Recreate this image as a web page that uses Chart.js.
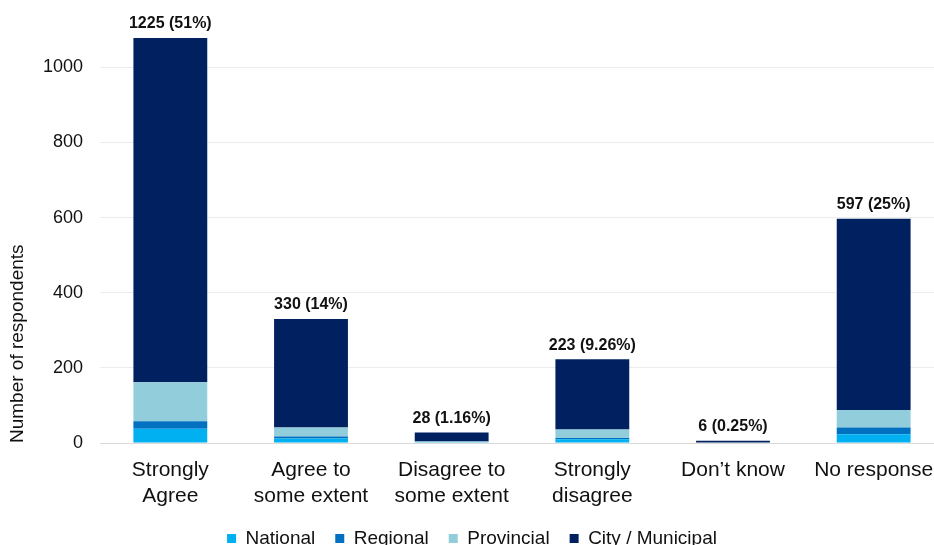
<!DOCTYPE html>
<html>
<head>
<meta charset="utf-8">
<script src="https://cdn.jsdelivr.net/npm/chart.js@4/dist/chart.umd.min.js"></script>
<style>
  html, body { margin: 0; padding: 0; background: #fff; overflow: hidden; }
  #wrap { width: 944px; height: 558px; }
</style>
</head>
<body>
<div id="wrap"><canvas id="chart" width="944" height="558"></canvas></div>
<script>
// ── Data ──────────────────────────────────────────────────────────────────────
const categories = [
  ["Strongly", "Agree"],
  ["Agree to", "some extent"],
  ["Disagree to", "some extent"],
  ["Strongly", "disagree"],
  ["Don\u2019t know"],
  ["No response"],
];
const national   = [38, 12, 2, 10, 0, 23];
const regional   = [20, 5, 0, 3, 0, 18];
const provincial = [104, 24, 2, 23, 0, 47];
const city       = [1063, 289, 24, 187, 6, 509];
const shares     = ["51%", "14%", "1.16%", "9.26%", "0.25%", "25%"];
const yTicks     = [0, 200, 400, 600, 800, 1000];

const FONT = "'Liberation Sans', Arial, Helvetica, sans-serif";

// ── Total labels above each stack ────────────────────────────────────────────
const totalLabels = {
  id: "totalLabels",
  afterDatasetsDraw(chart) {
    const { ctx, chartArea, scales: { x, y } } = chart;
    ctx.save();
    ctx.font = `bold 16px ${FONT}`;
    ctx.fillStyle = "#111";
    ctx.textAlign = "center";
    ctx.textBaseline = "bottom";
    categories.forEach((_, i) => {
      const total = national[i] + regional[i] + provincial[i] + city[i];
      const top = Math.max(y.getPixelForValue(total), chartArea.top);
      ctx.fillText(`${total} (${shares[i]})`, x.getPixelForValue(i), top - 6);
    });
    ctx.restore();
  },
};

const bar = (label, data, color) => ({
  label, data, backgroundColor: color, borderWidth: 0,
  barPercentage: 0.525, categoryPercentage: 1,
});

new Chart(document.getElementById("chart"), {
  type: "bar",
  data: {
    labels: categories,
    datasets: [
      bar("National", national, "#00b0f0"),
      bar("Regional", regional, "#0070c0"),
      bar("Provincial", provincial, "#92cddc"),
      bar("City / Municipal", city, "#002060"),
    ],
  },
  options: {
    responsive: false,
    animation: false,
    devicePixelRatio: 1,
    layout: { padding: { top: 38, right: 0, bottom: 0, left: 0 } },
    plugins: {
      tooltip: { enabled: false },
      legend: {
        position: "bottom",
        labels: {
          boxWidth: 9, boxHeight: 9, padding: 20,
          color: "#111", font: { family: FONT, size: 19 },
        },
      },
    },
    scales: {
      x: {
        stacked: true,
        grid: { display: false },
        border: { display: true, color: "#d9d9d9" },
        ticks: { color: "#111", font: { family: FONT, size: 21, lineHeight: 1.24 }, padding: 6, maxRotation: 0, autoSkip: false },
        afterFit(scale) { scale.height = 66; },
      },
      y: {
        stacked: true,
        min: 0,
        max: 1078,
        grid: { color: "#ececec", drawTicks: false },
        border: { display: false },
        ticks: {
          color: "#111", font: { family: FONT, size: 18 }, padding: 17,
          callback: v => String(v),
        },
        afterBuildTicks(scale) { scale.ticks = yTicks.map(v => ({ value: v })); },
        title: {
          display: true, text: "Number of respondents", align: "start",
          color: "#111", font: { family: FONT, size: 19 }, padding: { top: 6, bottom: 4 },
        },
        afterFit(scale) { scale.width = 100; },
      },
    },
  },
  plugins: [totalLabels],
});
</script>
</body>
</html>
